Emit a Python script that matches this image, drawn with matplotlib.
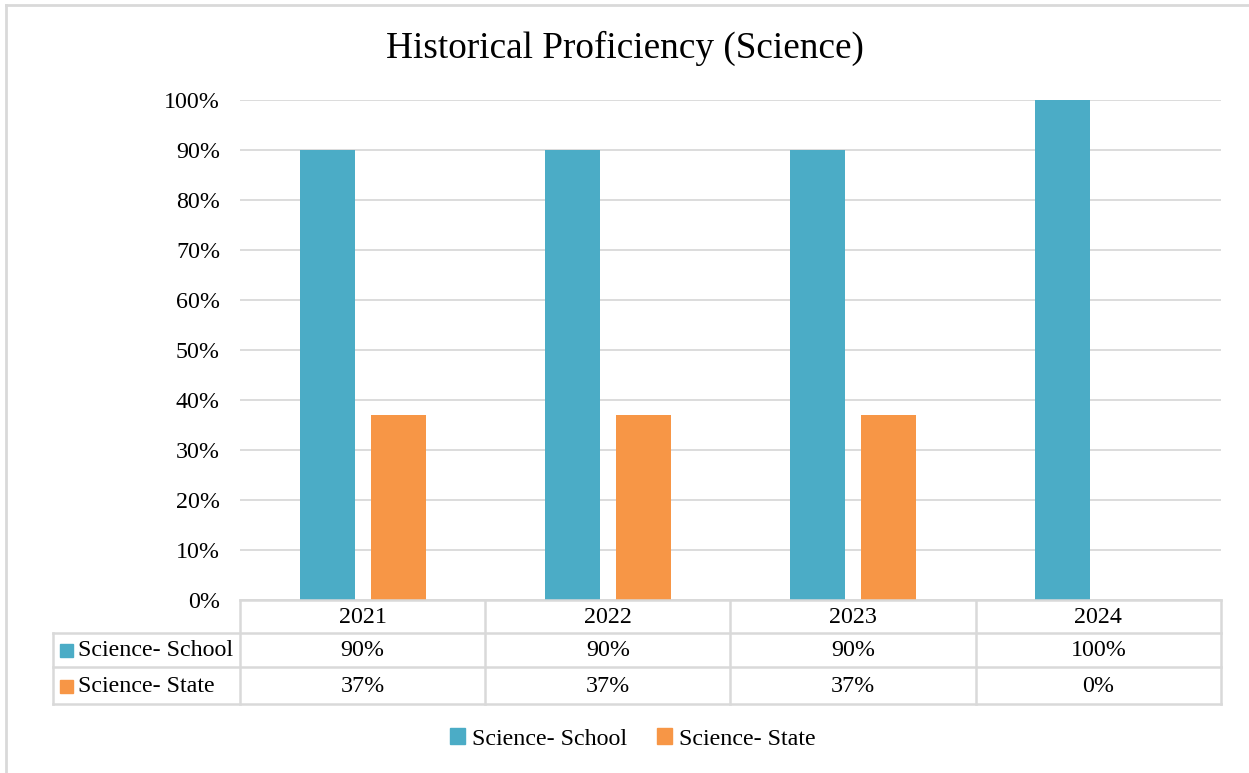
import matplotlib
matplotlib.use("Agg")
import matplotlib.pyplot as plt
from matplotlib.patches import Rectangle
import numpy as np

years = ["2021", "2022", "2023", "2024"]
school = [90, 90, 90, 100]
state = [37, 37, 37, 0]
series_names = ["Science- School", "Science- State"]
colors = ["#4BACC6", "#F79646"]
title = "Historical Proficiency (Science)"

W, H = 1249, 773
plt.rcParams['font.family'] = ['Liberation Serif', 'DejaVu Serif']
fig = plt.figure(figsize=(W/100, H/100), dpi=100)

def fx(px): return px / W
def fy(py): return 1 - py / H

FS = 17.3

# main axes: x 240..1221, y 100..600
L, R, T, B = 240, 1221, 100, 600
ax = fig.add_axes([fx(L), fy(B), fx(R - L), (B - T) / H])
x = np.arange(len(years))
bw = 55 / 245.25
off = 35.5 / 245.25
ax.bar(x - off, school, bw, color=colors[0], zorder=3)
ax.bar(x + off, state, bw, color=colors[1], zorder=3)
ax.set_xlim(-0.5, len(years) - 0.5)
ax.set_ylim(0, 100)
ax.set_yticks(np.arange(0, 101, 10))
ax.set_yticklabels([f"{v}%" for v in range(0, 101, 10)], fontsize=FS)
ax.tick_params(axis='y', length=0, pad=14.4)
ax.set_xticks([])
ax.grid(axis='y', color='#d9d9d9', linewidth=1.3, zorder=0)
for s in ax.spines.values():
    s.set_visible(False)

# overlay for table
ov = fig.add_axes([0, 0, 1, 1])
ov.set_xlim(0, W)
ov.set_ylim(H, 0)
ov.axis('off')
gc = '#d9d9d9'
lw = 1.8
rows_y = [600, 633, 667, 704]
cat_w = (R - L) / len(years)
col_x = [L + i * cat_w for i in range(len(years) + 1)]
left = 53
ov.plot([L, R], [rows_y[0], rows_y[0]], color=gc, lw=lw)
for yy in rows_y[1:]:
    ov.plot([left, R], [yy, yy], color=gc, lw=lw)
for cx in col_x:
    ov.plot([cx, cx], [rows_y[0], rows_y[-1]], color=gc, lw=lw)
ov.plot([left, left], [rows_y[1], rows_y[-1]], color=gc, lw=lw)

for i, yr in enumerate(years):
    cx = L + (i + 0.5) * cat_w
    ov.text(cx, (rows_y[0] + rows_y[1]) / 2 + 1, yr, ha='center', va='center', fontsize=FS)
    ov.text(cx, (rows_y[1] + rows_y[2]) / 2 + 1, f"{school[i]}%", ha='center', va='center', fontsize=FS)
    ov.text(cx, (rows_y[2] + rows_y[3]) / 2 + 1, f"{state[i]}%", ha='center', va='center', fontsize=FS)
for j, name in enumerate(series_names):
    yc = (rows_y[j + 1] + rows_y[j + 2]) / 2
    ov.add_patch(Rectangle((60, yc - 6), 13, 13, color=colors[j]))
    ov.text(78, yc + 1, name, ha='left', va='center', fontsize=FS)

# figure border
ov.plot([6, 6], [5, 772], color=gc, lw=2)
ov.plot([6, 1249], [5, 5], color=gc, lw=2)

fig.text(0.5, fy(48), title, ha='center', va='center', fontsize=26.8)

handles = [Rectangle((0, 0), 1, 1, color=c) for c in colors]
fig.legend(handles, series_names, loc='center', bbox_to_anchor=(fx(633), fy(739)),
           ncol=2, frameon=False, fontsize=FS, handlelength=0.6, handleheight=0.6,
           handletextpad=0.3, columnspacing=1.25)

fig.savefig("out.png", dpi=100)
